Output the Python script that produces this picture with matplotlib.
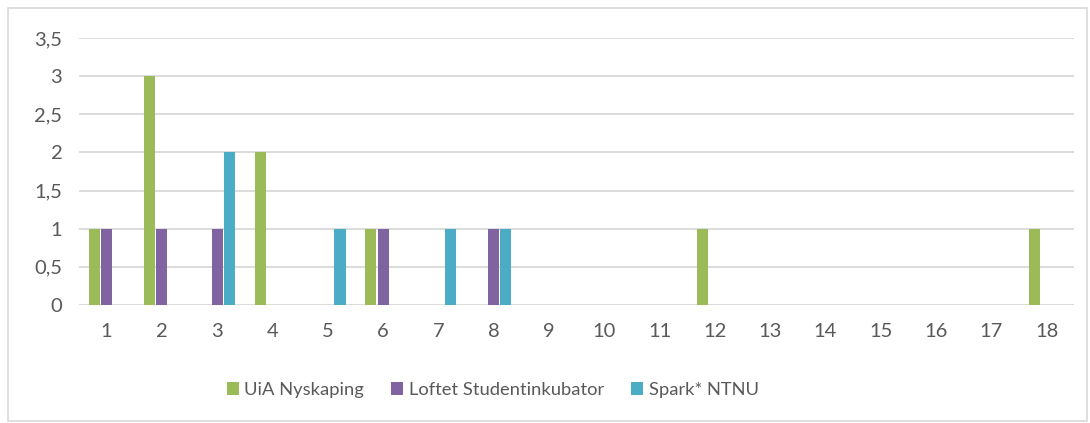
import numpy as np
import matplotlib.pyplot as plt
from matplotlib.patches import Rectangle

kategorier = list(range(1, 19))
uia = [1, 3, 0, 2, 0, 1, 0, 0, 0, 0, 0, 1, 0, 0, 0, 0, 0, 1]
loftet = [1, 1, 1, 0, 0, 1, 0, 1, 0, 0, 0, 0, 0, 0, 0, 0, 0, 0]
spark = [0, 0, 2, 0, 1, 0, 1, 1, 0, 0, 0, 0, 0, 0, 0, 0, 0, 0]
navn = ["UiA Nyskaping", "Loftet Studentinkubator", "Spark* NTNU"]
farger = ["#9BBB59", "#8064A2", "#4BACC6"]

plt.rcParams['font.family'] = ['Lato', 'DejaVu Sans']
tekst = "#595959"

fig = plt.figure(figsize=(10.9, 4.23), dpi=100)
fig.patches.append(Rectangle((0.007, 0.005), 0.99, 0.977, transform=fig.transFigure,
                             fill=False, edgecolor="#d9d9d9", linewidth=1.2))
ax = fig.add_axes([0.0725, 0.279, 0.913, 0.631])

x = np.array(kategorier)
b = 0.2
for i, serie in enumerate([uia, loftet, spark]):
    ax.bar(x + (i - 1) * 0.22, serie, width=b, color=farger[i], label=navn[i], zorder=3)

ax.set_xlim(0.5, 18.5)
ax.set_ylim(0, 3.5)
ax.set_yticks(np.arange(0, 3.6, 0.5))
ax.set_yticklabels(["0", "0,5", "1", "1,5", "2", "2,5", "3", "3,5"])
ax.set_xticks(x)
ax.grid(axis='y', color="#d9d9d9", linewidth=1.3, zorder=0)
for s in ax.spines.values():
    s.set_visible(False)
ax.tick_params(length=0, colors=tekst, labelsize=14.5)
ax.tick_params(axis='x', pad=13)
ax.tick_params(axis='y', pad=12)

leg = fig.legend(loc='center', bbox_to_anchor=(0.452, 1 - 390 / 423), ncol=3, frameon=False,
                 fontsize=13.2, handlelength=0.65, handleheight=0.65, handletextpad=0.3,
                 columnspacing=1.5, labelcolor=tekst)

fig.savefig("out.png", dpi=100)
